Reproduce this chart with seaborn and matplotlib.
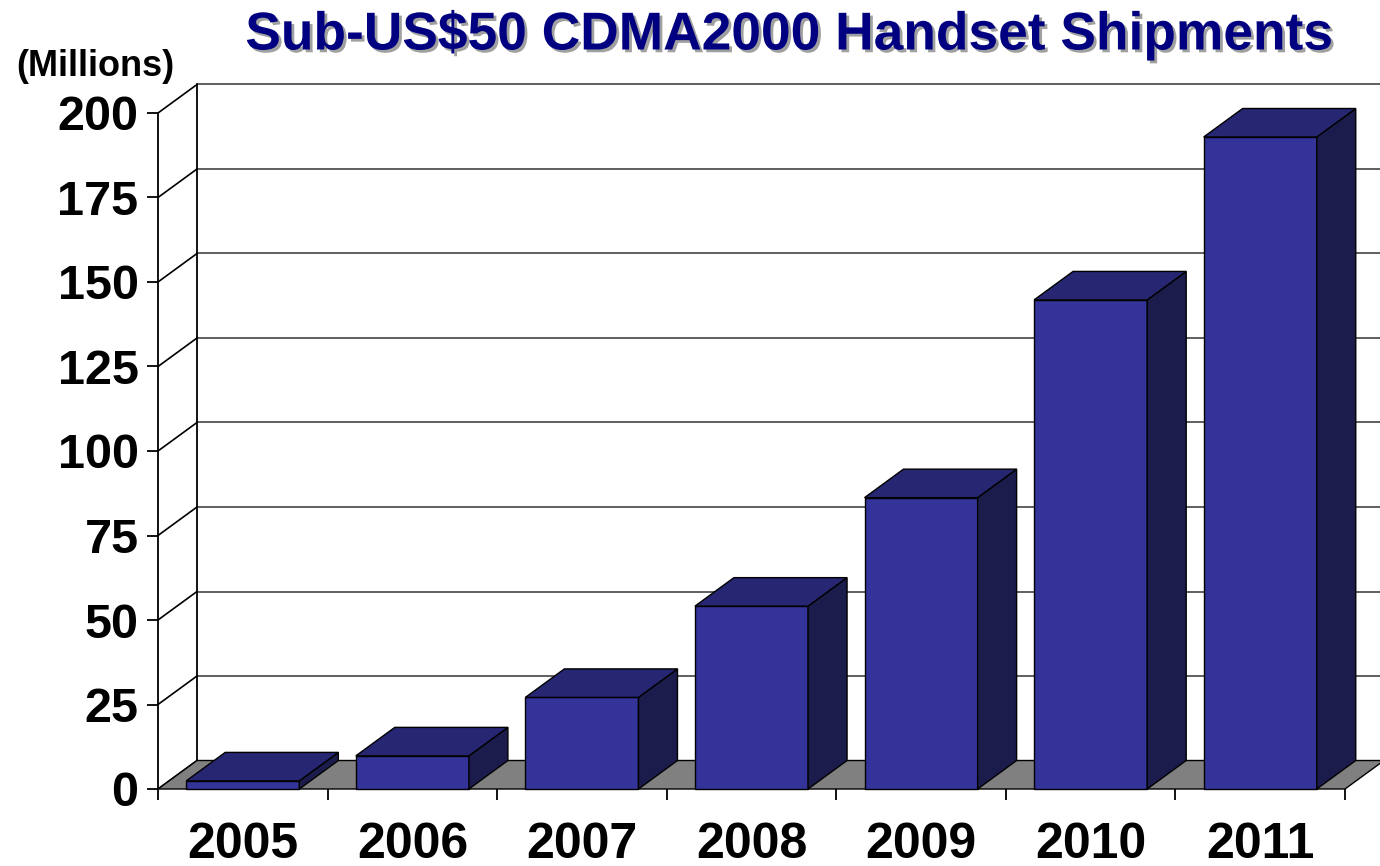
import matplotlib
matplotlib.use("Agg")
import matplotlib.pyplot as plt
import seaborn as sns
import pandas as pd
from matplotlib.patches import Polygon
from matplotlib.lines import Line2D
import matplotlib.patheffects as pe

years = ["2005", "2006", "2007", "2008", "2009", "2010", "2011"]
shipments = [2.4, 9.8, 27.1, 54.1, 86.2, 144.7, 192.9]
y_ticks = [0, 25, 50, 75, 100, 125, 150, 175, 200]
title = "Sub-US$50 CDMA2000 Handset Shipments"
unit_label = "(Millions)"

sns.set_theme(style="white")
plt.rcParams["font.family"] = ["Liberation Sans", "DejaVu Sans"]

W, H = 1380, 866
fig = plt.figure(figsize=(W / 100, H / 100), dpi=100)
fig.patch.set_facecolor("white")

# pixel geometry of the plot box
x0_px, x1_px, y0_px, ytop_px = 158, 1380, 789, 84.5
cat_px = 169.57
ppu = 676 / 200.0
ax = fig.add_axes([x0_px / W, 1 - y0_px / H, (x1_px - x0_px) / W, (y0_px - ytop_px) / H])

dx = 39 / cat_px
dy = 28.5 / ppu

df = pd.DataFrame({"year": years, "value": shipments})
sns.barplot(data=df, x="year", y="value", color="#333399", saturation=1,
            width=0.667, edgecolor="black", linewidth=1.0, ax=ax, zorder=3)

n = len(years)
ax.set_xlim(-0.5, -0.5 + (x1_px - x0_px) / cat_px)
ax.set_ylim(0, (y0_px - ytop_px) / ppu)
ax.set_facecolor("white")
for s in ax.spines.values():
    s.set_visible(False)

# back wall gridlines and side wall diagonals
for v in y_ticks:
    ax.add_line(Line2D([-0.5 + dx, ax.get_xlim()[1]], [v + dy, v + dy],
                       color="#444444", lw=1.2, zorder=0.5, clip_on=False))
    ax.add_line(Line2D([-0.5, -0.5 + dx], [v, v + dy], color="black", lw=1.2,
                       zorder=0.6, clip_on=False))
# back wall left edge and front axis
ax.add_line(Line2D([-0.5 + dx, -0.5 + dx], [dy, 200 + dy], color="black", lw=1.3,
                   zorder=0.6, clip_on=False))
ax.add_line(Line2D([-0.5, -0.5], [0, 200], color="black", lw=1.3, zorder=1.5,
                   clip_on=False))
# floor
floor = Polygon([(-0.5, 0), (n - 0.5, 0), (n - 0.5 + dx, dy), (-0.5 + dx, dy)],
                closed=True, facecolor="#808080", edgecolor="black", lw=1.0,
                zorder=1, clip_on=False)
ax.add_patch(floor)

# 3D faces of bars
for p in list(ax.patches):
    if p is floor:
        continue
    x = p.get_x()
    w = p.get_width()
    h = p.get_height()
    top = Polygon([(x, h), (x + w, h), (x + w + dx, h + dy), (x + dx, h + dy)],
                  closed=True, facecolor="#262673", edgecolor="black", lw=1.0,
                  zorder=3, clip_on=False)
    side = Polygon([(x + w, 0), (x + w + dx, dy), (x + w + dx, h + dy), (x + w, h)],
                   closed=True, facecolor="#1c1c4c", edgecolor="black", lw=1.0,
                   zorder=3, clip_on=False)
    ax.add_patch(side)
    ax.add_patch(top)
    p.set_clip_on(False)

# ticks
ax.set_yticks(y_ticks)
ax.set_yticklabels([str(v) for v in y_ticks], fontsize=35, fontweight="bold")
ax.tick_params(axis="y", which="major", left=True, length=8, width=1.3,
               color="black", pad=6, labelcolor="black")
ax.set_xticks([i - 0.5 for i in range(n + 1)])
ax.set_xticklabels([""] * (n + 1))
ax.set_xticks(list(range(n)), minor=True)
ax.set_xticklabels(years, minor=True, fontsize=36, fontweight="bold")
ax.tick_params(axis="x", which="major", bottom=True, length=8, width=1.3, color="black")
ax.tick_params(axis="x", which="minor", bottom=False, length=0, pad=24, labelcolor="black")
ax.set_xlabel("")
ax.set_ylabel("")

fig.text(790 / W, 1 - 35 / H, title, ha="center", va="center", fontsize=38.4,
         fontweight="bold", color="#000080",
         path_effects=[pe.withSimplePatchShadow(offset=(2, -2), shadow_rgbFace="#a0a0a0", alpha=1.0)])
fig.text(95 / W, 1 - 67 / H, unit_label, ha="center", va="center", fontsize=26,
         fontweight="bold", color="black")

fig.savefig("out.png", dpi=100, facecolor="white")
